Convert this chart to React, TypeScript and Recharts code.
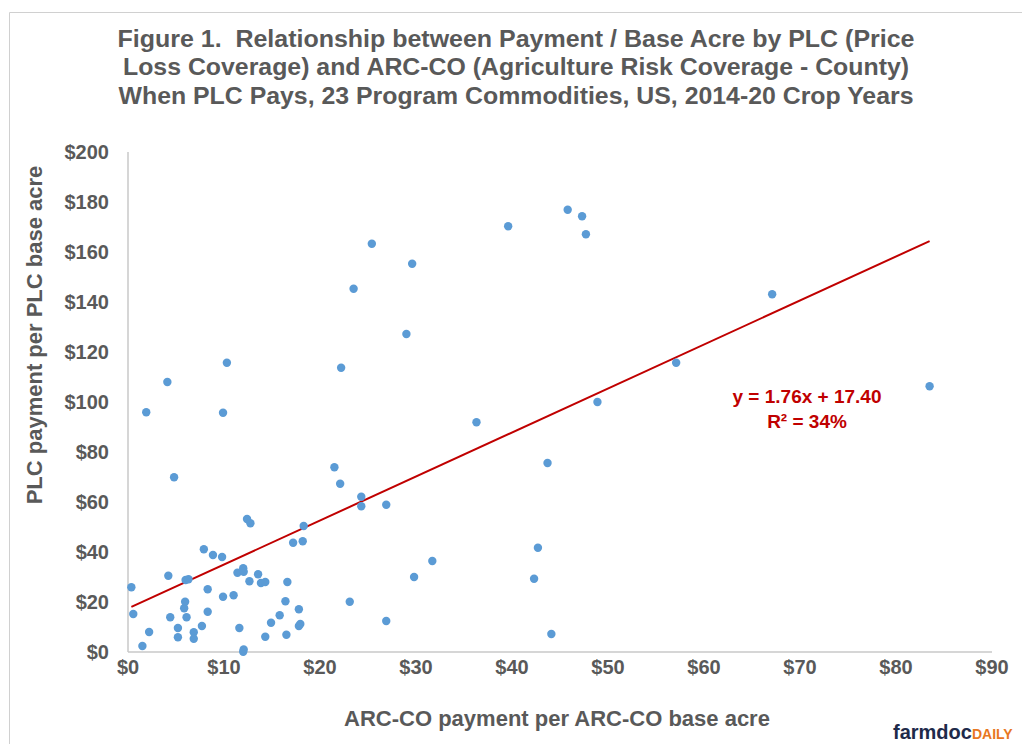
import React from "react";
import { ScatterChart, Scatter, XAxis, YAxis, ReferenceLine } from "recharts";

// ARC-CO payment per ARC-CO base acre ($)
const arcPayment = [
  0.35, 0.55, 1.5, 1.9, 2.2, 4.1, 4.2, 4.4, 4.8, 5.2,
  5.2, 5.85, 5.95, 6.0, 6.3, 6.1, 6.85, 6.85, 7.7, 7.9,
  8.3, 8.3, 8.85, 9.8, 9.9, 9.9, 10.3, 11.0, 11.4, 11.6,
  12.0, 12.05, 12.05, 12.0, 12.4, 12.75, 12.65, 13.55, 13.85, 14.3,
  14.3, 14.9, 15.8, 16.4, 16.5, 16.6, 17.2, 17.8, 17.8, 17.95,
  18.2, 18.3, 21.5, 22.1, 22.2, 23.1, 23.5, 24.3, 24.3, 25.4,
  26.9, 26.9, 29.0, 29.6, 29.8, 31.7, 36.3, 39.6, 42.3, 42.7,
  43.7, 44.1, 45.8, 47.3, 47.7, 48.9, 57.1, 67.1, 83.5,
];

// PLC payment per PLC base acre ($)
const plcPayment = [
  25.9, 15.2, 2.4, 95.9, 8.0, 108.0, 30.5, 13.9, 69.9, 9.6,
  5.9, 17.5, 20.1, 28.8, 29.1, 13.9, 7.9, 5.3, 10.4, 41.1,
  25.1, 16.1, 38.8, 38.0, 22.1, 95.7, 115.7, 22.7, 31.7, 9.6,
  33.5, 32.1, 1.0, 0.1, 53.2, 51.5, 28.3, 31.1, 27.6, 28.0,
  6.1, 11.7, 14.7, 20.3, 6.9, 28.0, 43.7, 17.1, 10.4, 11.2,
  44.3, 50.4, 73.9, 67.3, 113.7, 20.1, 145.3, 62.1, 58.3, 163.3,
  58.9, 12.4, 127.2, 155.3, 30.0, 36.4, 91.9, 170.3, 29.3, 41.7,
  75.6, 7.2, 176.9, 174.3, 167.1, 100.0, 115.7, 143.1, 106.3,
];

const xTicks = [0, 10, 20, 30, 40, 50, 60, 70, 80, 90];
const yTicks = [0, 20, 40, 60, 80, 100, 120, 140, 160, 180, 200];

const titleLines = [
  "Figure 1.  Relationship between Payment / Base Acre by PLC (Price",
  "Loss Coverage) and ARC-CO (Agriculture Risk Coverage - County)",
  "When PLC Pays, 23 Program Commodities, US, 2014-20 Crop Years",
];
const titleWidths = [797, 786, 795];

const trendSlope = 1.76;
const trendIntercept = 17.4;
const equationText = "y = 1.76x + 17.40";
const r2Text = "R² = 34%";

const points = arcPayment.map((x, i) => ({ x, y: plcPayment[i] }));
const xMin = Math.min(...arcPayment);
const xMax = Math.max(...arcPayment);

const FONT = "'Liberation Sans', Arial, Helvetica, sans-serif";
const GREY = "#595959";

const Dot = (props: any) => (
  <circle cx={props.cx} cy={props.cy} r={4.2} fill="#5B9BD5" />
);

export default function App() {
  return (
    <div
      style={{
        position: "absolute",
        left: 0,
        top: 0,
        width: 1022,
        height: 744,
        background: "#fff",
        overflow: "hidden",
        fontFamily: FONT,
      }}
    >
      <ScatterChart
        width={1022}
        height={744}
        margin={{ top: 152, right: 30, bottom: 62, left: 68 }}
      >
        <XAxis
          type="number"
          dataKey="x"
          domain={[0, 90]}
          ticks={xTicks}
          tickFormatter={(v: number) => `$${v}`}
          axisLine={{ stroke: "#C8C8C8", strokeWidth: 1.5 }}
          tickLine={false}
          height={30}
          tick={{ fill: GREY, fontSize: 20, fontWeight: 700, fontFamily: FONT }}
          interval={0}
        />
        <YAxis
          type="number"
          dataKey="y"
          domain={[0, 200]}
          ticks={yTicks}
          tickFormatter={(v: number) => `$${v}`}
          axisLine={{ stroke: "#C8C8C8", strokeWidth: 1.5 }}
          tickLine={false}
          width={60}
          tickMargin={13}
          tick={{ fill: GREY, fontSize: 20, fontWeight: 700, fontFamily: FONT }}
          interval={0}
        />
        <Scatter data={points} shape={Dot} isAnimationActive={false} />
        <ReferenceLine
          segment={[
            { x: xMin, y: trendSlope * xMin + trendIntercept },
            { x: xMax, y: trendSlope * xMax + trendIntercept },
          ]}
          stroke="#C00000"
          strokeWidth={2}
        />
      </ScatterChart>
      <svg
        width={1022}
        height={744}
        style={{ position: "absolute", left: 0, top: 0, pointerEvents: "none" }}
      >
        <path d="M9.5 1000 L9.5 12.5 L1100 12.5" fill="none" stroke="#D0D0D0" strokeWidth={1} />
        {titleLines.map((t, i) => (
          <text
            key={i}
            x={516}
            y={47 + i * 28.3}
            textAnchor="middle"
            fill={GREY}
            fontSize={23}
            fontWeight={700}
            fontFamily={FONT}
            textLength={titleWidths[i]}
            lengthAdjust="spacingAndGlyphs"
            xmlSpace="preserve"
          >
            {t}
          </text>
        ))}
        <text
          x={0}
          y={0}
          transform="translate(42 335) rotate(-90)"
          textAnchor="middle"
          fill={GREY}
          fontSize={22}
          fontWeight={700}
          fontFamily={FONT}
        >
          PLC payment per PLC base acre
        </text>
        <text
          x={557}
          y={726}
          textAnchor="middle"
          fill={GREY}
          fontSize={22}
          fontWeight={700}
          fontFamily={FONT}
        >
          ARC-CO payment per ARC-CO base acre
        </text>
        <text x={807} y={403} textAnchor="middle" fill="#C00000" fontSize={19} fontWeight={700} fontFamily={FONT}>
          {equationText}
        </text>
        <text x={807} y={428} textAnchor="middle" fill="#C00000" fontSize={19} fontWeight={700} fontFamily={FONT}>
          {r2Text}
        </text>
        <text x={893} y={739} fontSize={20} fontWeight={700} fontFamily={FONT} fill="#1E2A4A">
          farmdoc
          <tspan fill="#E87722" fontSize={14}>DAILY</tspan>
        </text>
      </svg>
    </div>
  );
}
